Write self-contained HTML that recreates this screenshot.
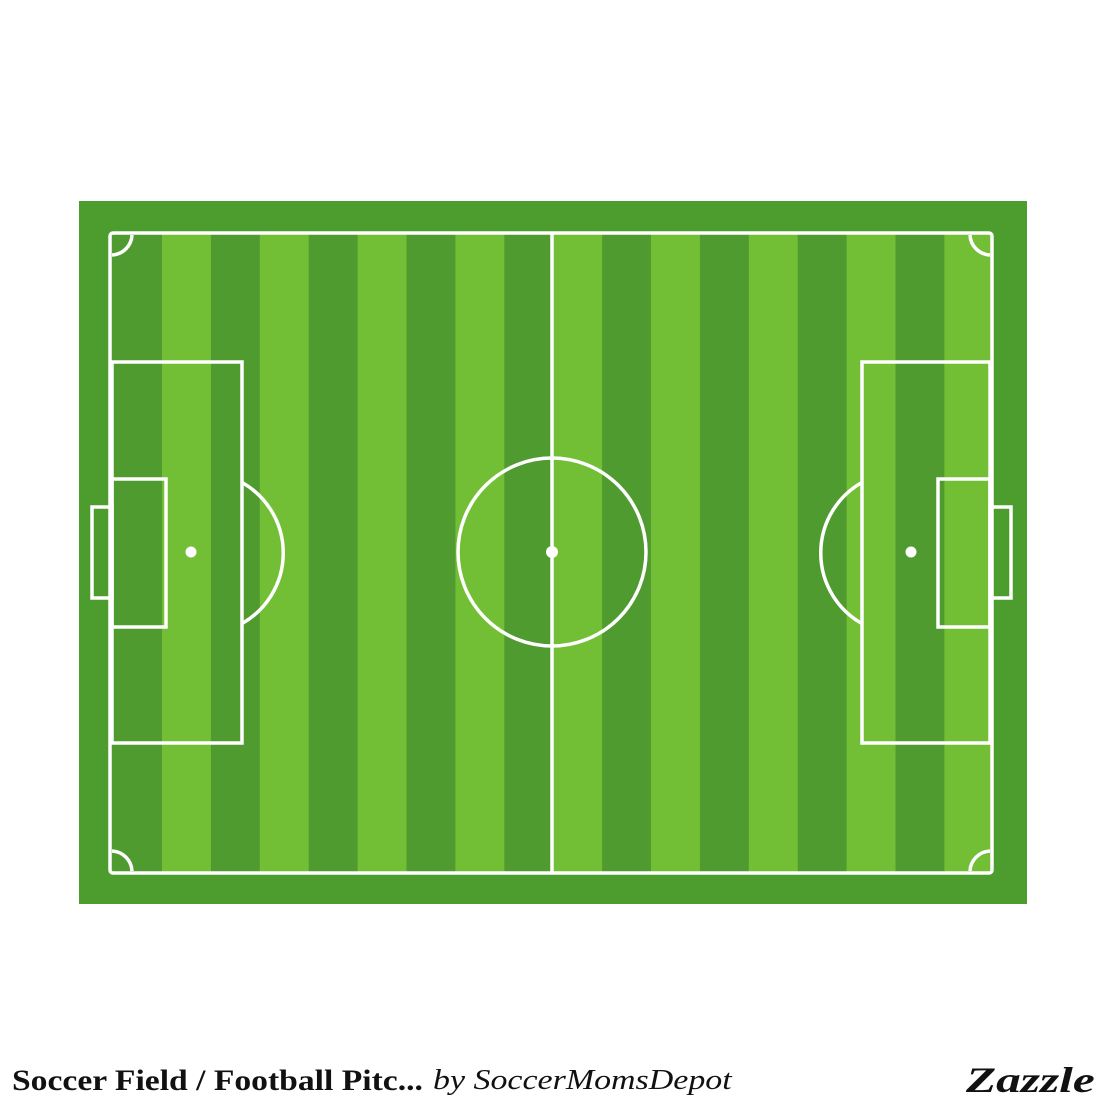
<!DOCTYPE html>
<html><head><meta charset="utf-8"><style>
html,body{margin:0;padding:0;background:#fff;width:1106px;height:1106px;overflow:hidden}
svg{position:absolute;left:0;top:0}
.cap{position:absolute;top:1064px;font-family:"Liberation Serif",serif;font-size:30px;color:#111;white-space:nowrap;transform-origin:0 0}
</style></head><body>
<svg width="1106" height="1106">
<rect x="79" y="201" width="948" height="703" fill="#4c9c2e"/>
<g id="stripes"></g>
<g fill="none" stroke="#fff" stroke-width="3.5">
<rect x="110" y="233" width="882" height="640" rx="3"/>
<line x1="552" y1="233" x2="552" y2="873"/>
<circle cx="552" cy="552" r="94"/>
<rect x="112" y="362" width="130" height="381"/>
<rect x="112" y="479" width="54" height="148"/>
<rect x="92" y="507" width="20" height="91"/>
<path d="M243 483 A81 81 0 0 1 243 623"/>
<rect x="862" y="362" width="128" height="381"/>
<rect x="938" y="479" width="52" height="148"/>
<rect x="990" y="507" width="21" height="91"/>
<path d="M861 483 A81 81 0 0 0 861 623"/>
<path d="M112 255 A21 21 0 0 0 132 235"/>
<path d="M970 235 A21 21 0 0 0 990 255"/>
<path d="M112 851 A21 21 0 0 1 132 871"/>
<path d="M970 871 A21 21 0 0 1 990 851"/>
</g>
<g fill="#fff">
<circle cx="552" cy="552" r="6"/>
<circle cx="191" cy="552" r="5.5"/>
<circle cx="911" cy="552" r="5.5"/>
</g>
</svg>
<div class="cap" style="left:12px;font-weight:bold;transform:scaleX(1.12)">Soccer Field / Football Pitc...</div>
<div class="cap" style="left:433px;font-style:italic;font-size:29px;transform:scaleX(1.17)">by SoccerMomsDepot</div>
<div class="cap" style="left:966px;font-weight:bold;font-style:italic;font-size:36px;top:1059px;transform:scaleX(1.37)">Zazzle</div>
<script>
var g=document.getElementById('stripes');
var ns='http://www.w3.org/2000/svg';
var edges=[110];
for(var k=0;k<18;k++){edges.push(162+48.9*k);}
edges[18]=992;
for(var i=0;i<edges.length-1;i++){
 var r=document.createElementNS(ns,'rect');
 r.setAttribute('x',edges[i]);r.setAttribute('y',233);
 r.setAttribute('width',edges[i+1]-edges[i]+0.5);r.setAttribute('height',640);
 r.setAttribute('fill',i%2===0?'#4f9b30':'#72bf35');
 
 
 g.appendChild(r);
}
</script>
</body></html>
